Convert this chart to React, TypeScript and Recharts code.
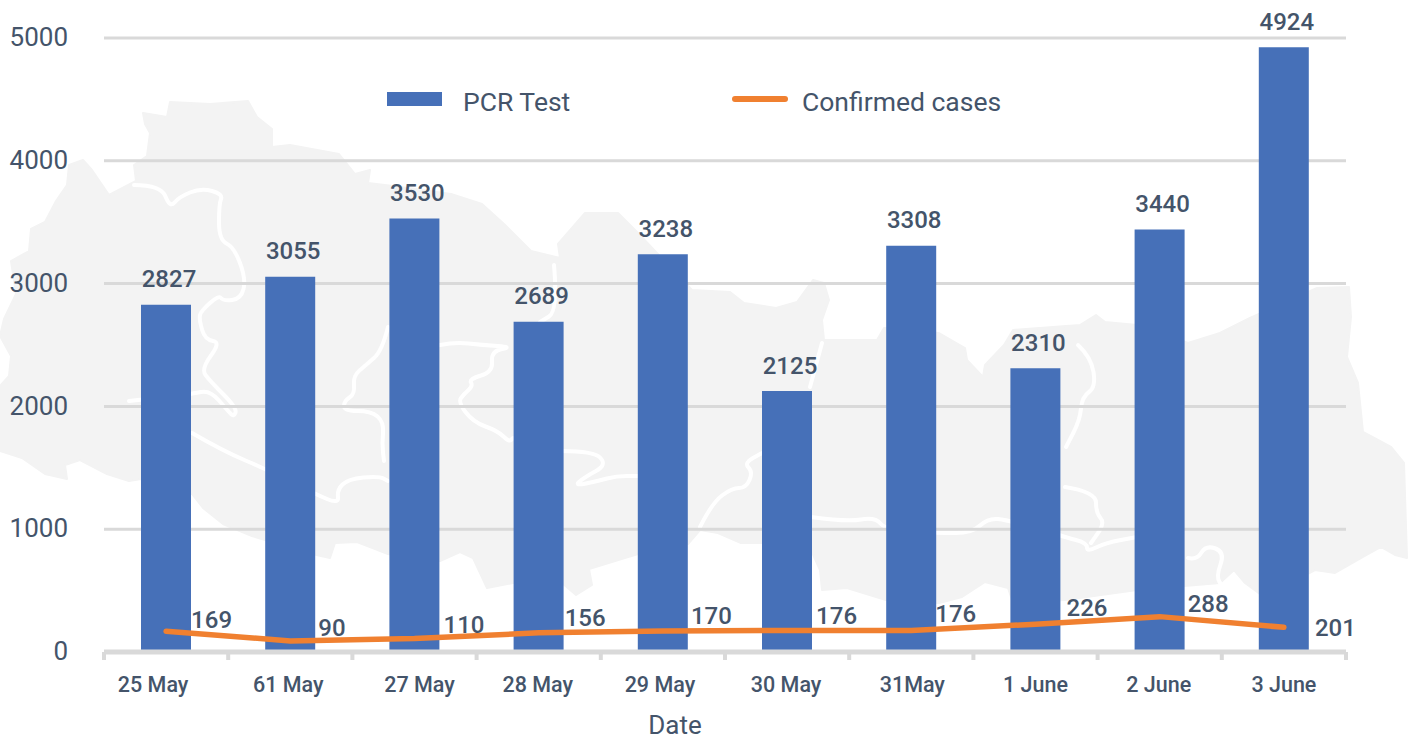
import React from 'react';
import { ComposedChart, Bar, Line, XAxis, YAxis, CartesianGrid, Legend } from 'recharts';

const dates = ['25 May', '61 May', '27 May', '28 May', '29 May', '30 May', '31May', '1 June', '2 June', '3 June'];
const pcrTests = [2827, 3055, 3530, 2689, 3238, 2125, 3308, 2310, 3440, 4924];
const confirmedCases = [169, 90, 110, 156, 170, 176, 176, 226, 288, 201];
const yTicks = [0, 1000, 2000, 3000, 4000, 5000];

const chartData = dates.map((date, i) => ({ date, pcr: pcrTests[i], confirmed: confirmedCases[i] }));

const WIDTH = 1415;
const HEIGHT = 740;
const BAND = 124.2;
const TEXT = '#44546a';
const GRID = '#d9d9d9';
const FONT = 'Roboto, sans-serif';

// hand placed label nudges, the source chart was not regular about these
const tickNudgeX = [-13, -2, 5, -1, -3, -1, 1, 0, -1, 0];
const lineLabelDx = [25, 28, 29, 26, 28, 29, 24, 31, 28, 31];
const lineLabelDy = [-11, -13, -13, -15, -15, -14, -16, -16, -13, 1];

// faded map behind the chart, page coordinates
const mapOutline =
  'M143,113 145,124 150,133 147,156 134,165 136,181 109,195 92,170 83,160 69,165 67,185 56,201 45,222 31,229 29,251 11,261 16,294 4,319 0,336 11,356 9,376 0,386 0,451 22,458 45,474 67,479 65,465 80,460 107,474 129,481 141,479 192,494 203,508 223,524 230,527 252,536 312,554 330,558 335,543 357,542 388,554 440,561 460,552 473,558 487,588 513,583 562,583 576,595 592,585 589,569 638,554 688,544 700,530 718,533 741,543 762,543 811,550 820,570 822,590 847,588 886,600 939,603 962,597 985,582 1008,588 1013,603 1065,600 1137,590 1220,583 1234,570 1245,583 1264,597 1315,570 1335,573 1363,557 1381,547 1395,555 1407,558 1404,463 1391,447 1363,432 1358,383 1347,357 1351,317 1349,287 1317,288 1250,318 1220,333 1188,343 1137,325 1105,322 1096,315 1080,325 1013,330 1004,345 985,365 983,377 967,360 965,348 939,333 884,328 877,340 824,340 822,320 829,300 824,283 813,280 797,302 776,308 744,303 730,292 692,290 638,233 618,213 585,213 558,244 560,258 531,251 504,224 482,204 451,194 393,186 368,183 370,170 355,174 339,154 290,145 272,147 272,129 257,117 248,101 210,104 170,102 167,117Z';
const mapBorders = [
  '134,185 161,185 170,208 179,197 201,188 223,194 219,204 219,240 234,247 246,279 241,299 223,301 219,295 201,311 199,319 205,340 221,342 201,369 210,381 237,408 234,417 228,411 210,390 192,394 129,401',
  '192,433 223,451 268,470 315,494 339,504 337,490 348,479 379,476 388,481',
  '388,327 382,351 366,365 353,376 355,394 344,401 344,411 371,411 384,422 382,444 384,461',
  '440,345 455,342 482,345 513,347 491,351 493,372 469,379 473,386 464,394 458,402 473,422 498,431 509,442 513,438',
  '554,265 558,311 540,322',
  '562,451 594,451 607,465 585,477 574,486 598,481 616,476 638,476',
  '700,527 712,503 732,488 746,488 753,472 744,463 762,453',
  '811,517 847,522 875,517 886,530 939,533 972,533 988,518 1008,520 1065,537 1087,543 1087,552 1105,543 1137,537',
  '1065,487 1096,492 1096,513 1105,523 1091,543',
  '1078,345 1091,357 1096,387 1082,397 1080,420 1066,447',
  '810,387 822,343',
  '1188,558 1197,560 1206,545 1225,552 1216,577 1223,587',
];

// round the corners of a border by curving through the segment midpoints
const smoothPath = (points: string) => {
  const pts = points.split(' ').map(p => p.split(',').map(Number));
  let d = `M${pts[0][0]},${pts[0][1]}`;
  for (let i = 1; i < pts.length - 1; i++) {
    const mx = (pts[i][0] + pts[i + 1][0]) / 2;
    const my = (pts[i][1] + pts[i + 1][1]) / 2;
    d += ` Q${pts[i][0]},${pts[i][1]} ${mx},${my}`;
  }
  const last = pts[pts.length - 1];
  return `${d} L${last[0]},${last[1]}`;
};

const MapBackdrop = () => (
  <svg width={WIDTH} height={HEIGHT} style={{ position: 'absolute', left: 0, top: 0 }}>
    <path d={mapOutline} fill="#f3f3f3" stroke="#f3f3f3" strokeWidth={2} strokeLinejoin="round" />
    {mapBorders.map((points, i) => (
      <path key={i} d={smoothPath(points)} fill="none" stroke="#ffffff" strokeWidth={4} strokeLinecap="round" />
    ))}
  </svg>
);

const DateTick = ({ x, y, payload, index }: any) => (
  <g>
    <line x1={x - BAND / 2} x2={x - BAND / 2} y1={y} y2={y + 8} stroke={GRID} strokeWidth={4} />
    {index === dates.length - 1 && (
      <line x1={x + BAND / 2} x2={x + BAND / 2} y1={y} y2={y + 8} stroke={GRID} strokeWidth={4} />
    )}
    <text
      x={x + tickNudgeX[index]}
      y={y + 32}
      textAnchor="middle"
      dominantBaseline="central"
      fontFamily={FONT}
      fontSize={21.5}
      fontWeight={500}
      fill={TEXT}
    >
      {payload.value}
    </text>
  </g>
);

const BarValue = ({ x, y, width, value }: any) => (
  <text
    x={x + width / 2 + 3}
    y={y - 25.5}
    textAnchor="middle"
    dominantBaseline="central"
    fontFamily={FONT}
    fontSize={24}
    fontWeight={500}
    fill={TEXT}
  >
    {value}
  </text>
);

const LineValue = ({ x, y, value, index }: any) => (
  <text
    x={x + lineLabelDx[index]}
    y={y + lineLabelDy[index]}
    dominantBaseline="central"
    fontFamily={FONT}
    fontSize={24}
    fontWeight={500}
    fill={TEXT}
  >
    {value}
  </text>
);

const ChartLegend = () => (
  <div style={{ position: 'relative', width: WIDTH, height: 0, fontFamily: FONT, fontSize: 26.5, color: TEXT }}>
    <div style={{ position: 'absolute', left: 387, top: 92, width: 55, height: 14, background: '#4670b8' }} />
    <div style={{ position: 'absolute', left: 463, top: 87, lineHeight: '30px' }}>PCR Test</div>
    <div style={{ position: 'absolute', left: 732, top: 96, width: 56, height: 6, borderRadius: 3, background: '#f08030' }} />
    <div style={{ position: 'absolute', left: 802, top: 87, lineHeight: '30px', whiteSpace: 'nowrap' }}>Confirmed cases</div>
  </div>
);

export default function App() {
  return (
    <div style={{ position: 'absolute', left: 0, top: 0, width: WIDTH, height: HEIGHT, background: '#ffffff' }}>
      <MapBackdrop />
      <div style={{ position: 'absolute', left: 0, top: 0 }}>
        <ComposedChart
          width={WIDTH}
          height={HEIGHT}
          data={chartData}
          margin={{ top: 38, right: 69, bottom: 0, left: 0 }}
          barCategoryGap={0}
        >
          <CartesianGrid vertical={false} stroke={GRID} strokeWidth={3} />
          <XAxis
            dataKey="date"
            height={88}
            interval={0}
            axisLine={{ stroke: GRID, strokeWidth: 5 }}
            tickLine={false}
            tickSize={0}
            tickMargin={0}
            tick={<DateTick />}
            label={{
              value: 'Date',
              position: 'insideBottom',
              dx: -50,
              offset: 6,
              style: { fontFamily: FONT, fontSize: 26, fill: TEXT },
            }}
          />
          <YAxis
            width={104}
            domain={[0, 5000]}
            ticks={yTicks}
            axisLine={false}
            tickLine={false}
            tickSize={0}
            tickMargin={36}
            tick={{ fontFamily: FONT, fontSize: 26, fill: TEXT, dy: -1 }}
          />
          <Legend content={<ChartLegend />} wrapperStyle={{ left: 0, top: 0, width: WIDTH, height: 0 }} />
          <Bar dataKey="pcr" name="PCR Test" fill="#4670b8" barSize={50} isAnimationActive={false} label={<BarValue />} />
          <Line
            dataKey="confirmed"
            name="Confirmed cases"
            stroke="#f08030"
            strokeWidth={5.5}
            strokeLinecap="round"
            dot={false}
            activeDot={false}
            isAnimationActive={false}
            label={<LineValue />}
          />
        </ComposedChart>
      </div>
    </div>
  );
}
